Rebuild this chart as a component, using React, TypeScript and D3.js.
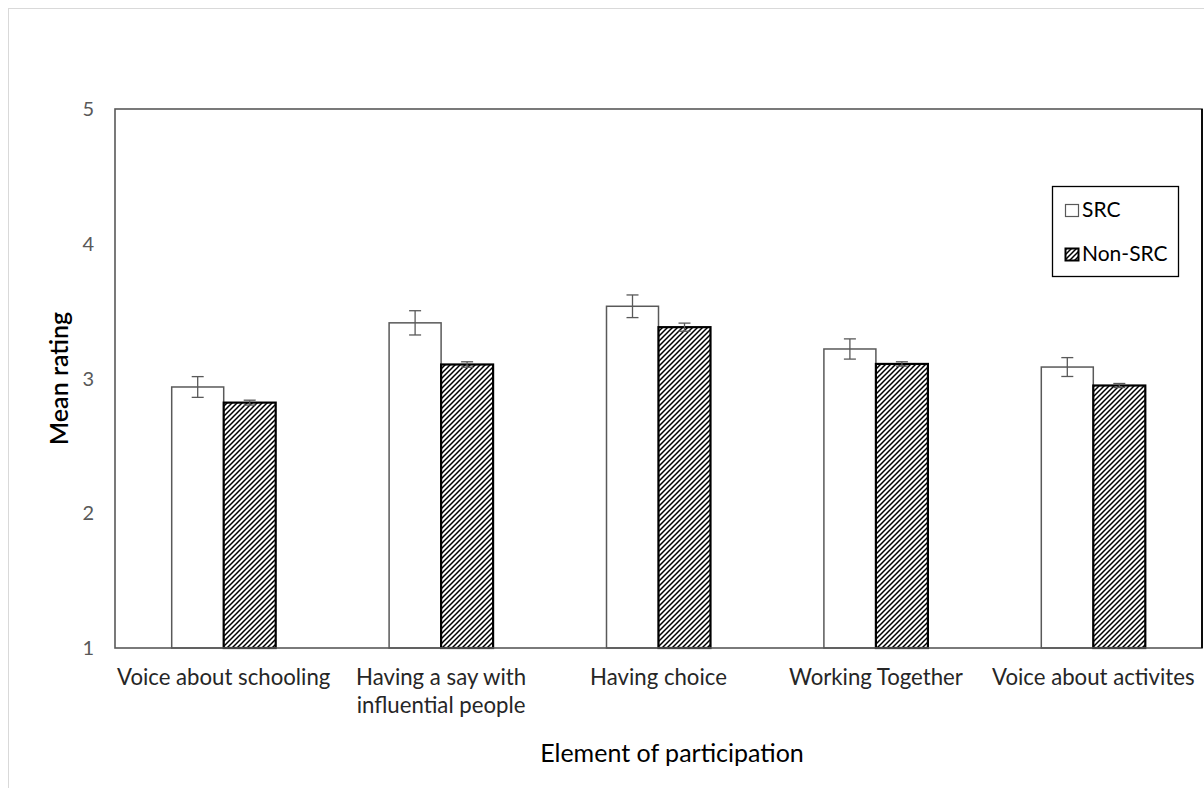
import React from "react";
import * as d3 from "d3";

const categories: string[][] = [
  ["Voice about schooling"],
  ["Having a say with", "influential people"],
  ["Having choice"],
  ["Working Together"],
  ["Voice about activites"],
];
const seriesNames = ["SRC", "Non-SRC"];
const srcValues = [2.937, 3.413, 3.536, 3.219, 3.085];
const nonSrcValues = [2.821, 3.104, 3.381, 3.108, 2.948];
const srcErrors = [0.077, 0.09, 0.084, 0.075, 0.07];
const nonSrcErrors = [0.018, 0.02, 0.03, 0.016, 0.015];
const yTicks = [1, 2, 3, 4, 5];

const W = 1204;
const H = 788;
const plot = { left: 115, top: 109, right: 1202, bottom: 648 };
const FONT = "Lato, Carlito, Calibri, sans-serif";

export default function App() {
  const keys = categories.map((c) => c.join(" "));
  const gap = 113.4 / 217.4;
  const x0 = d3
    .scaleBand<string>()
    .domain(keys)
    .range([plot.left, plot.right])
    .paddingInner(gap)
    .paddingOuter(gap / 2);
  const x1 = d3.scaleBand<string>().domain(seriesNames).range([0, x0.bandwidth()]);
  const y = d3.scaleLinear().domain([1, 5]).range([plot.bottom, plot.top]);

  const series = [
    { name: "SRC", values: srcValues, errors: srcErrors, fill: "#ffffff", stroke: "#595959", sw: 1.5 },
    { name: "Non-SRC", values: nonSrcValues, errors: nonSrcErrors, fill: "url(#hatch)", stroke: "#000000", sw: 2.2 },
  ];

  return (
    <svg
      width={W}
      height={H}
      style={{ position: "absolute", left: 0, top: 0, background: "#fff" }}
    >
      <defs>
        <pattern id="hatch" patternUnits="userSpaceOnUse" width={5} height={5}>
          <rect width={5} height={5} fill="#fff" />
          <path d="M0,5 L5,0 M-1.5,1.5 L1.5,-1.5 M3.5,6.5 L6.5,3.5" stroke="#000" strokeWidth={1.5} />
        </pattern>
      </defs>
      <rect x={8.5} y={8.5} width={W + 10} height={H + 10} fill="none" stroke="#d9d9d9" strokeWidth={1} />

      {/* y tick labels */}
      {yTicks.map((t) => (
        <text
          key={t}
          x={94}
          y={y(t)}
          dy="0.35em"
          textAnchor="end"
          fontFamily={FONT}
          fontSize={20}
          fill="#595959"
        >
          {t}
        </text>
      ))}

      {/* bars */}
      {series.map((s) =>
        keys.map((k, i) => {
          const bx = (x0(k) as number) + (x1(s.name) as number);
          const bw = x1.bandwidth();
          return (
            <rect
              key={s.name + k}
              x={bx}
              y={y(s.values[i])}
              width={bw}
              height={y(1) - y(s.values[i])}
              fill={s.fill}
              stroke={s.stroke}
              strokeWidth={s.sw}
            />
          );
        })
      )}

      {/* error bars */}
      {series.map((s) =>
        keys.map((k, i) => {
          const cx = (x0(k) as number) + (x1(s.name) as number) + x1.bandwidth() / 2;
          const hi = y(s.values[i] + s.errors[i]);
          const lo = y(s.values[i] - s.errors[i]);
          return (
            <g key={"e" + s.name + k} stroke="#595959" strokeWidth={1.3}>
              <line x1={cx} x2={cx} y1={hi} y2={lo} />
              <line x1={cx - 6} x2={cx + 6} y1={hi} y2={hi} />
              <line x1={cx - 6} x2={cx + 6} y1={lo} y2={lo} />
            </g>
          );
        })
      )}

      {/* plot frame */}
      <rect
        x={plot.left}
        y={plot.top}
        width={plot.right - plot.left}
        height={plot.bottom - plot.top}
        fill="none"
        stroke="#595959"
        strokeWidth={1.6}
      />
      <line x1={plot.right} x2={plot.right} y1={plot.top} y2={plot.bottom} stroke="#000" strokeWidth={1.8} />

      {/* category labels */}
      {categories.map((lines, i) => (
        <text
          key={i}
          x={(x0(keys[i]) as number) + x0.bandwidth() / 2}
          y={685}
          textAnchor="middle"
          fontFamily={FONT}
          fontSize={22.2}
          fill="#262626"
        >
          {lines.map((l, j) => (
            <tspan key={j} x={(x0(keys[i]) as number) + x0.bandwidth() / 2} dy={j === 0 ? 0 : 28}>
              {l}
            </tspan>
          ))}
        </text>
      ))}

      {/* axis titles */}
      <text
        x={672}
        y={762}
        textAnchor="middle"
        fontFamily={FONT}
        fontSize={25}
        fill="#000"
      >
        Element of participation
      </text>
      <text
        transform={`translate(68,${(plot.top + plot.bottom) / 2}) rotate(-90)`}
        textAnchor="middle"
        fontFamily={FONT}
        fontSize={25}
        fontWeight={600}
        fill="#000"
      >
        Mean rating
      </text>

      {/* legend */}
      <g>
        <rect x={1052.5} y={186.5} width={126} height={90} fill="#fff" stroke="#000" strokeWidth={1.3} />
        <rect x={1065.5} y={204.5} width={13} height={12} fill="#fff" stroke="#595959" strokeWidth={1.2} />
        <text x={1082} y={217} fontFamily={FONT} fontSize={21} fill="#000">
          {seriesNames[0]}
        </text>
        <rect x={1065.5} y={248.5} width={13} height={12} fill="url(#hatch)" stroke="#000" strokeWidth={2} />
        <text x={1082} y={261} fontFamily={FONT} fontSize={21} fill="#000">
          {seriesNames[1]}
        </text>
      </g>
    </svg>
  );
}
